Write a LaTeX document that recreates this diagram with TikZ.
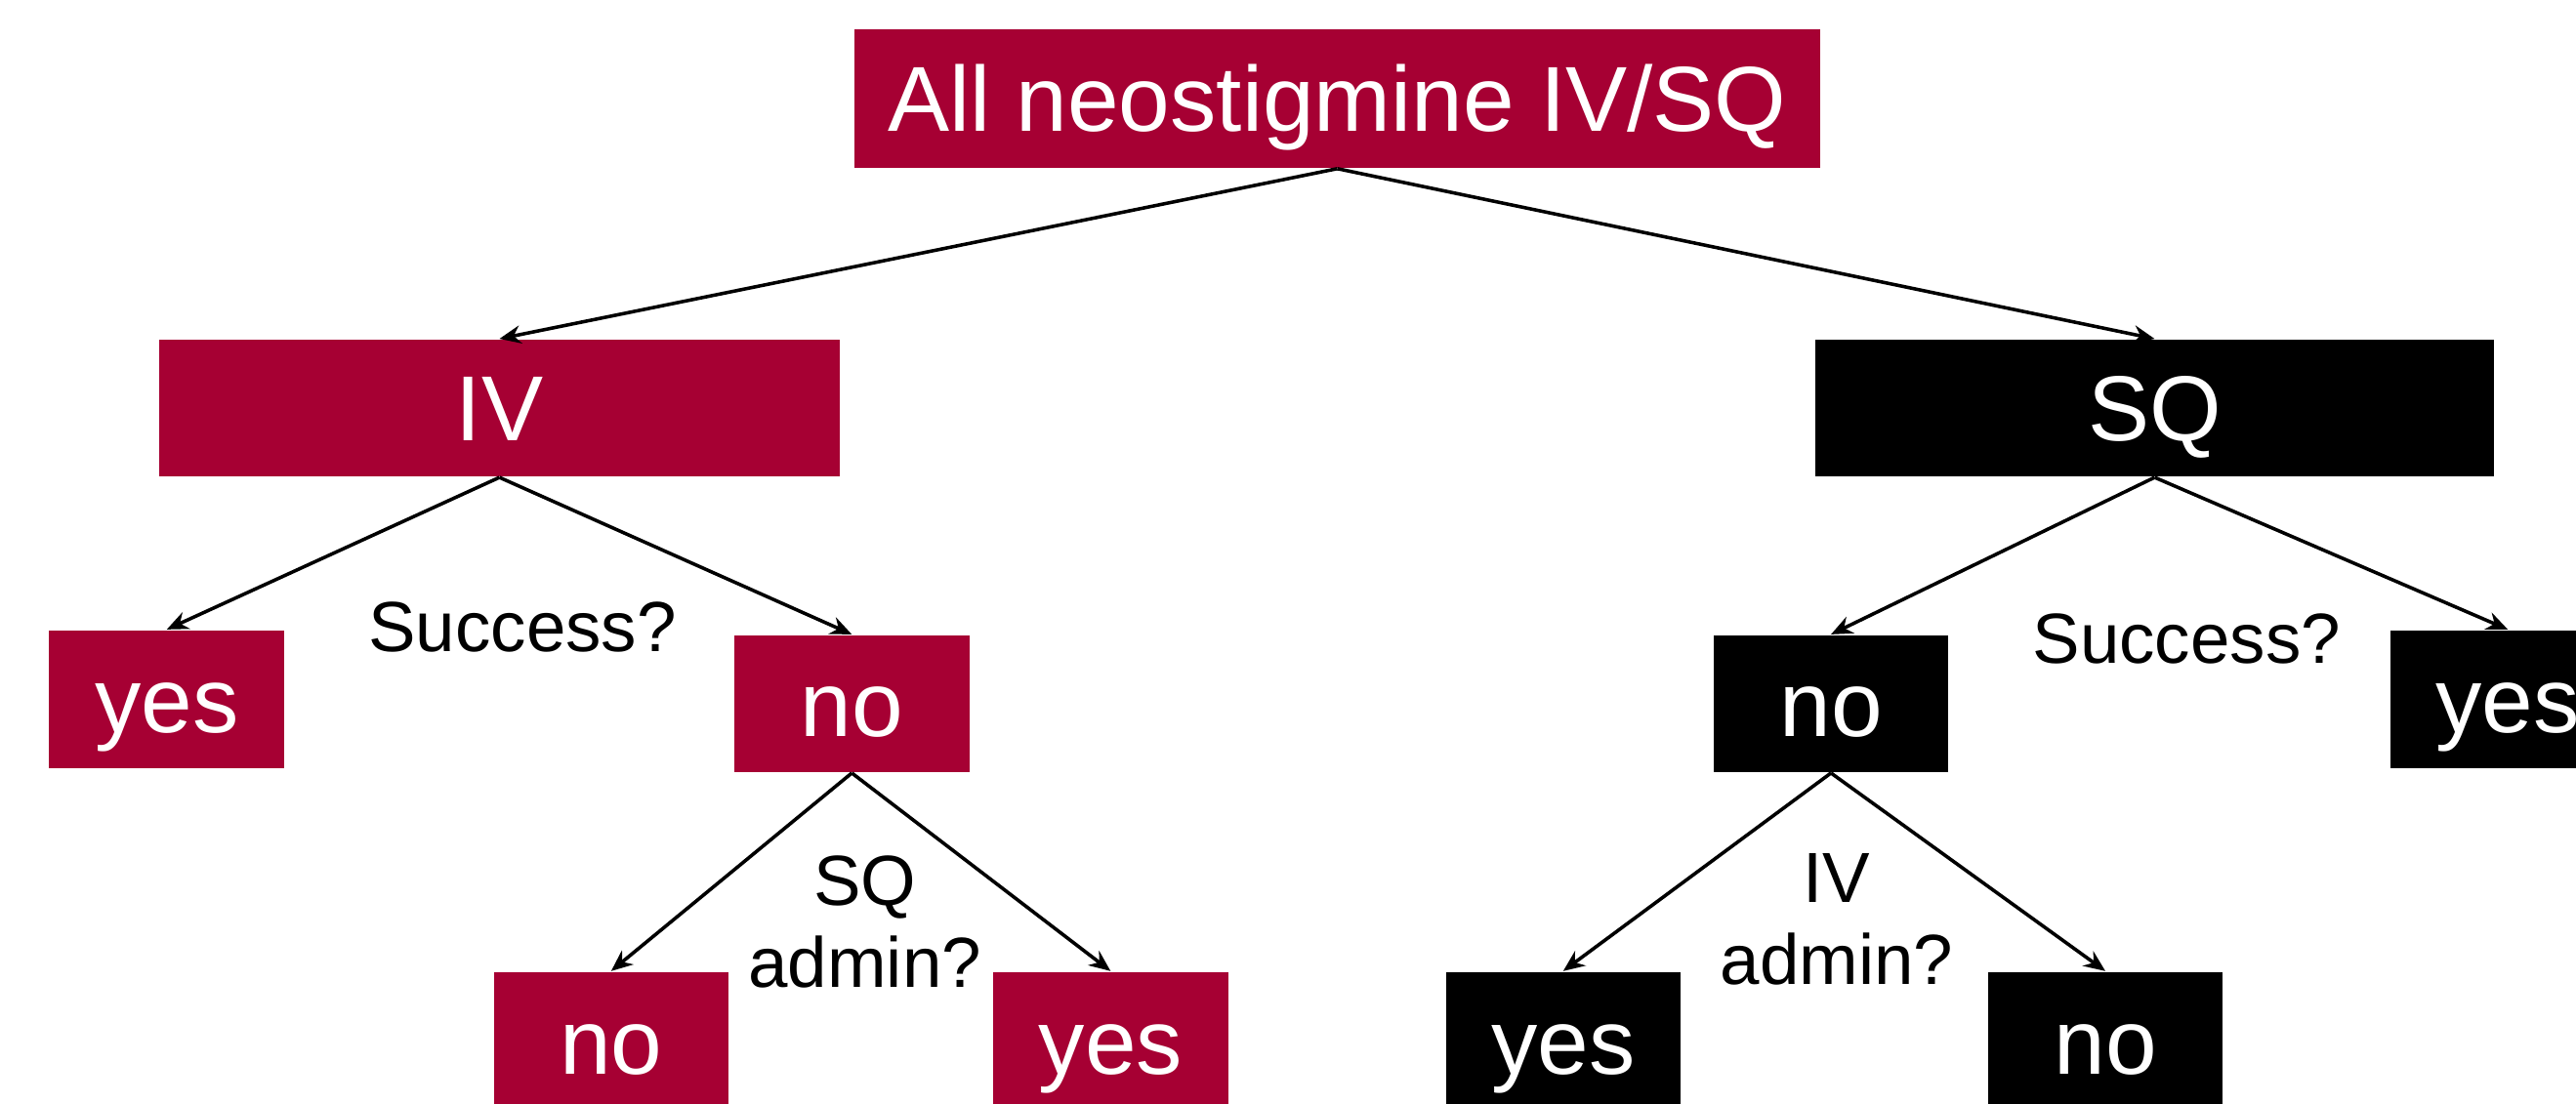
\documentclass[tikz,border=0pt]{standalone}
\usepackage{fontspec}
\setmainfont{Liberation Sans}
\usepackage{xcolor}
\usetikzlibrary{arrows.meta}
\definecolor{crimson}{RGB}{166,0,51}

\begin{document}
\begin{tikzpicture}[
    box/.style={draw=none, inner sep=0pt, text=white, font=\fontsize{16}{19}\selectfont,
        minimum width=1.43cm, minimum height=0.84cm, text height=0.5cm, text depth=0.1cm},
    redbox/.style={box, fill=crimson},
    blackbox/.style={box, fill=black},
    question/.style={font=\fontsize{12.3}{14.2}\selectfont, align=center, inner sep=0pt},
    branch/.style={-{Stealth[length=0.13cm, width=0.11cm]}, line width=0.6pt}]
            \useasboundingbox (0,0) rectangle (15.68,6.72);

            % Root
            \node[redbox, minimum width=5.88cm] (all) at (8.14,6.12) {All neostigmine IV/SQ};

            % First split
            \node[redbox, minimum width=4.14cm, minimum height=0.83cm] (iv) at (3.04,4.235) {IV};
            \node[blackbox, minimum width=4.13cm, minimum height=0.83cm] (sq) at (13.115,4.235) {SQ};
            \draw[branch] (all.south) -- (iv.north);
            \draw[branch] (all.south) -- (sq.north);

            % IV: success?
            \node[redbox] (ivyes) at (1.015,2.46) {yes};
            \node[redbox, minimum height=0.83cm] (ivno) at (5.185,2.435) {no};
            \node[question, anchor=base] (ivsuccess) at (3.18,2.75) {Success?};
            \draw[branch] (iv.south) -- (ivyes.north);
            \draw[branch] (iv.south) -- (ivno.north);

            % SQ: success?
            \node[blackbox, minimum height=0.83cm] (sqno) at (11.145,2.435) {no};
            \node[blackbox] (sqyes) at (15.265,2.46) {yes};
            \node[question, anchor=base] (sqsuccess) at (13.31,2.68) {Success?};
            \draw[branch] (sq.south) -- (sqno.north);
            \draw[branch] (sq.south) -- (sqyes.north);

            % IV failed: SQ admin?
            \node[redbox] (ivnono) at (3.72,0.38) {no};
            \node[redbox] (ivnoyes) at (6.76,0.38) {yes};
            \node[question] (sqadmin) at (5.265,1.105) {SQ\\admin?};
            \draw[branch] (ivno.south) -- (ivnono.north);
            \draw[branch] (ivno.south) -- (ivnoyes.north);

            % SQ failed: IV admin?
            \node[blackbox] (sqnoyes) at (9.515,0.38) {yes};
            \node[blackbox] (sqnono) at (12.815,0.38) {no};
            \node[question] (ivadmin) at (11.18,1.12) {IV\\admin?};
            \draw[branch] (sqno.south) -- (sqnoyes.north);
            \draw[branch] (sqno.south) -- (sqnono.north);
        \end{tikzpicture}
\end{document}
